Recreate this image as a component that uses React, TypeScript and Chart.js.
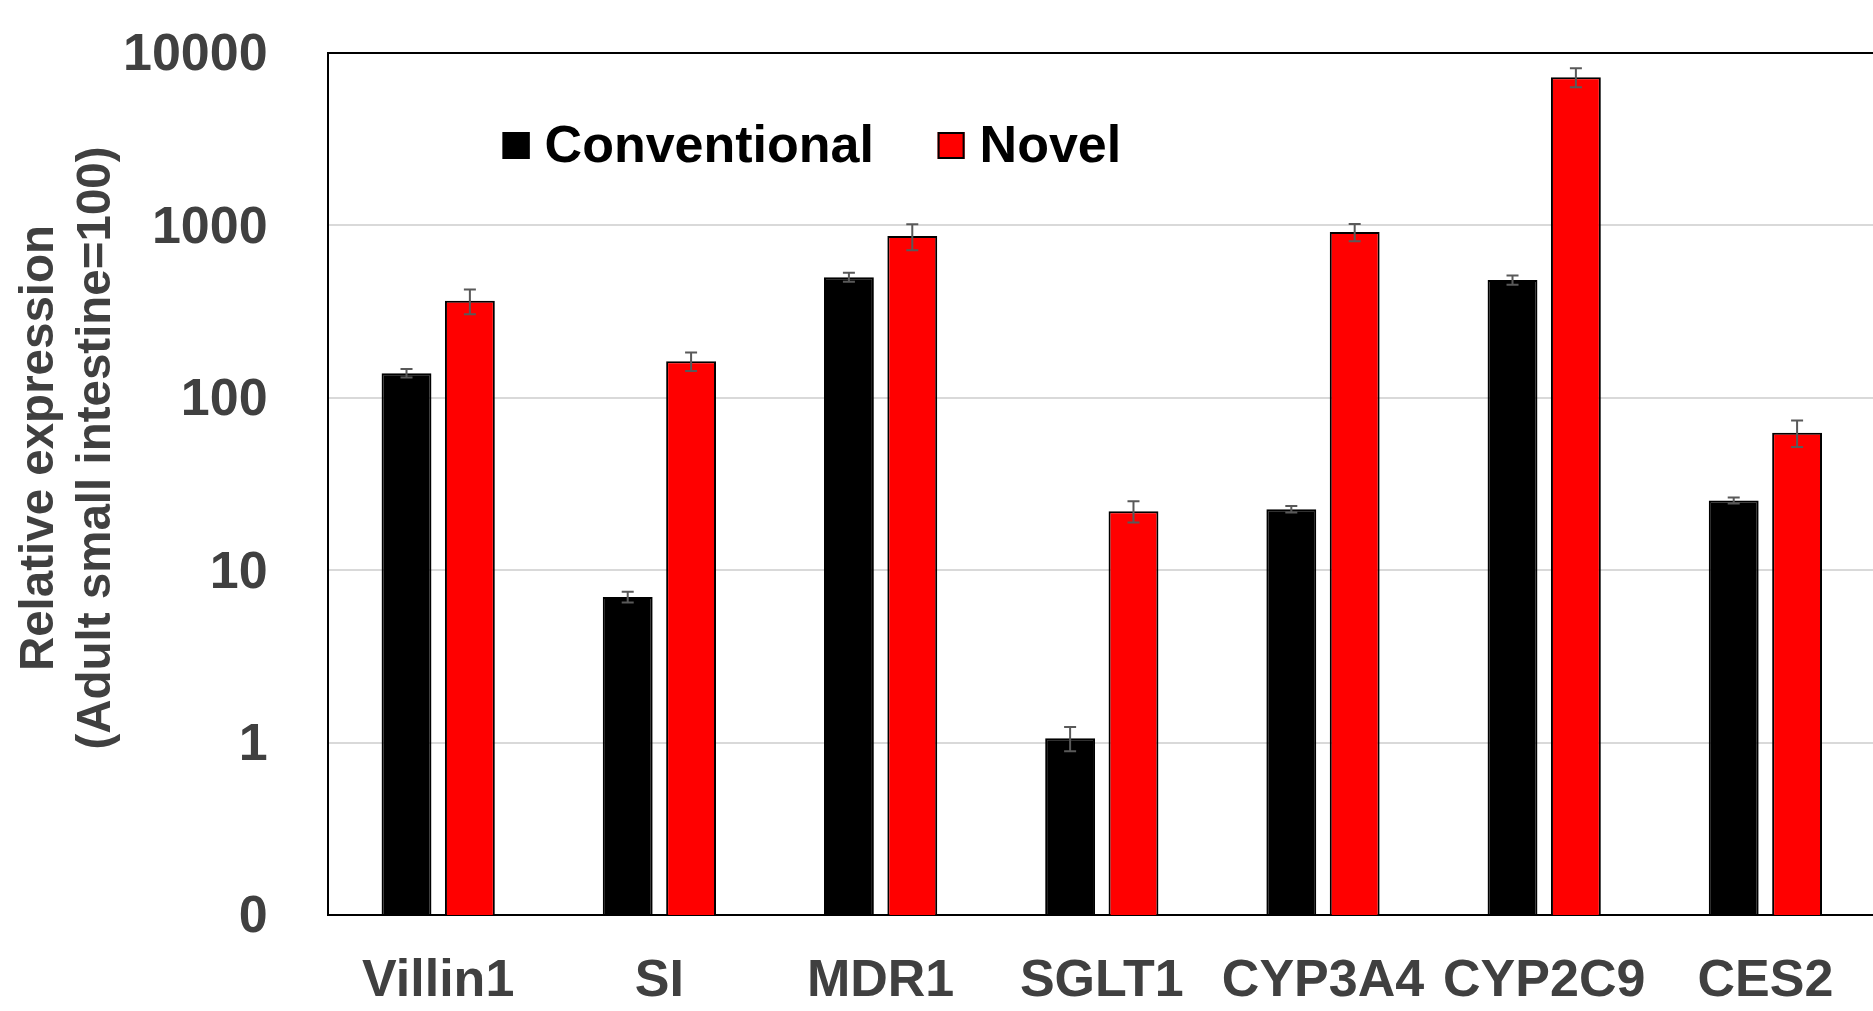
import React, { useEffect, useRef } from 'react';
import { Chart, registerables } from 'chart.js';

Chart.register(...registerables);

const categories = ['Villin1', 'SI', 'MDR1', 'SGLT1', 'CYP3A4', 'CYP2C9', 'CES2'];
const seriesNames = ['Conventional', 'Novel'];
const conventional = [139, 7.0, 501, 1.06, 22.6, 483, 25.4];
const conventionalErr = [8, 0.5, 30, 0.17, 1.0, 30, 1.0];
const novel = [365, 163, 867, 22.0, 915, 7244, 62.8];
const novelErr = [60, 20, 150, 3.1, 105, 920, 11];
const yTickValues = [0.1, 1, 10, 100, 1000, 10000];
const yTickLabels = ['0', '1', '10', '100', '1000', '10000'];
const yTitleLines = ['Relative expression', '(Adult small intestine=100)'];

const FONT = '"Liberation Sans", Arial, sans-serif';
const GRAY_TEXT = '#404040';

const errorBarPlugin = {
  id: 'errorBars',
  afterDatasetsDraw(chart: any) {
    const ctx = chart.ctx;
    const yScale = chart.scales.y;
    ctx.save();
    ctx.strokeStyle = '#595959';
    ctx.lineWidth = 2;
    chart.data.datasets.forEach((ds: any, d: number) => {
      const meta = chart.getDatasetMeta(d);
      ds.data.forEach((v: number, i: number) => {
        const e = ds.errors[i];
        const bar = meta.data[i];
        const x = bar.x;
        const yTop = yScale.getPixelForValue(v + e);
        const low = v - e > yScale.min ? v - e : yScale.min;
        const yBot = yScale.getPixelForValue(low);
        const cap = 6;
        ctx.beginPath();
        ctx.moveTo(x, yTop);
        ctx.lineTo(x, yBot);
        ctx.moveTo(x - cap, yTop);
        ctx.lineTo(x + cap, yTop);
        ctx.moveTo(x - cap, yBot);
        ctx.lineTo(x + cap, yBot);
        ctx.stroke();
      });
    });
    ctx.restore();
  },
};

const customLegendPlugin = {
  id: 'customLegend',
  afterDraw(chart: any) {
    const ctx = chart.ctx;
    const left = chart.chartArea.left;
    const items = [
      { offset: 175, color: '#000000' },
      { offset: 610, color: '#ff0000' },
    ];
    ctx.save();
    ctx.font = `bold 52px ${FONT}`;
    ctx.textBaseline = 'middle';
    ctx.textAlign = 'left';
    items.forEach((it, k) => {
      const sx = left + it.offset;
      const sy = 132;
      ctx.fillStyle = it.color;
      ctx.fillRect(sx, sy, 27, 27);
      ctx.strokeStyle = '#000';
      ctx.lineWidth = 2;
      ctx.strokeRect(sx + 1, sy + 1, 25, 25);
      ctx.fillStyle = '#000';
      ctx.fillText(seriesNames[k], sx + 42, 148);
    });
    ctx.restore();
  },
};

const yTitlePlugin = {
  id: 'yTitle',
  afterDraw(chart: any) {
    const ctx = chart.ctx;
    const xs = [40, 97];
    ctx.save();
    ctx.font = `bold 47.5px ${FONT}`;
    ctx.fillStyle = GRAY_TEXT;
    ctx.textAlign = 'center';
    ctx.textBaseline = 'middle';
    yTitleLines.forEach((line, k) => {
      ctx.save();
      ctx.translate(xs[k], 448);
      ctx.rotate(-Math.PI / 2);
      ctx.fillText(line, 0, 0);
      ctx.restore();
    });
    ctx.restore();
  },
};

export default function App() {
  const canvasRef = useRef<HTMLCanvasElement | null>(null);

  useEffect(() => {
    if (!canvasRef.current) return;
    const chart = new Chart(canvasRef.current, {
      type: 'bar',
      data: {
        labels: categories,
        datasets: [
          {
            label: seriesNames[0],
            data: conventional,
            errors: conventionalErr,
            backgroundColor: '#000000',
            borderColor: '#000000',
            borderWidth: 2,
          } as any,
          {
            label: seriesNames[1],
            data: novel,
            errors: novelErr,
            backgroundColor: '#ff0000',
            borderColor: '#000000',
            borderWidth: 2,
          } as any,
        ],
      },
      options: {
        responsive: false,
        animation: false,
        layout: { padding: { left: 123, top: 53, right: 0, bottom: 6.6 } },
        datasets: { bar: { categoryPercentage: 0.573, barPercentage: 0.787 } },
        plugins: {
          legend: { display: false },
          tooltip: { enabled: false },
        },
        scales: {
          x: {
            grid: {
              display: true,
              drawOnChartArea: false,
              drawTicks: true,
              tickLength: 35,
              color: 'rgba(0,0,0,0)',
              tickColor: 'rgba(0,0,0,0)',
            },
            border: { display: true, color: '#000000', width: 2 },
            ticks: {
              color: GRAY_TEXT,
              font: { family: FONT, size: 52, weight: 'bold' },
              padding: 0,
              maxRotation: 0,
              autoSkip: false,
            },
          },
          y: {
            type: 'logarithmic',
            min: 0.1,
            max: 10000,
            afterBuildTicks: (scale: any) => {
              scale.ticks = yTickValues.map((v) => ({ value: v }));
            },
            ticks: {
              callback: (_v: any, index: number) => yTickLabels[index],
              color: GRAY_TEXT,
              font: { family: FONT, size: 52, weight: 'bold' },
              padding: 0,
              labelOffset: 3,
            },
            grid: {
              color: (ctx: any) => (ctx.tick && ctx.tick.value === 10000 ? '#000000' : '#d9d9d9'),
              lineWidth: 2,
              drawTicks: true,
              tickLength: 60,
              tickColor: 'rgba(0,0,0,0)',
            },
            border: { display: true, color: '#000000', width: 2 },
          },
        },
      } as any,
      plugins: [errorBarPlugin, customLegendPlugin, yTitlePlugin],
    });
    return () => chart.destroy();
  }, []);

  return (
    <div style={{ position: 'fixed', left: 0, top: 0, width: 1873, height: 1011, overflow: 'hidden', background: '#fff' }}>
      <canvas ref={canvasRef} width={1876} height={1019} style={{ display: 'block' }} />
    </div>
  );
}
